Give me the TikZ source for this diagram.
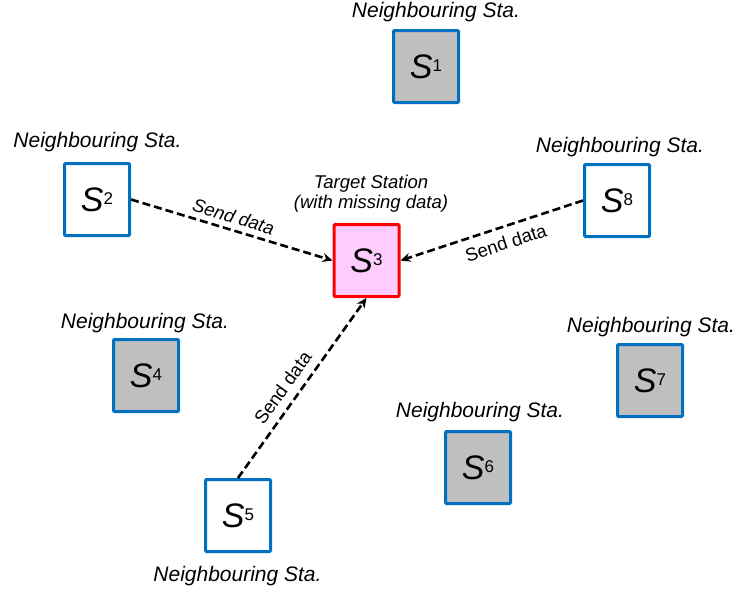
\documentclass[tikz,border=0pt]{standalone}
\usepackage{fontspec}
\setmainfont{Liberation Sans}
\usetikzlibrary{arrows.meta}
\definecolor{stblue}{HTML}{0070C0}
\definecolor{stgray}{HTML}{BFBFBF}
\definecolor{stpink}{HTML}{FFCCFF}
\newcommand{\stat}[1]{{\fontsize{34}{34}\selectfont\textit{S}\raisebox{7pt}{\fontsize{17}{17}\selectfont #1}}}

\begin{document}
\begin{tikzpicture}[x=1pt,y=-1pt,>={Stealth[length=10pt,width=9pt]},
  stbox/.style={draw=stblue,line width=3pt,fill=white,minimum width=65pt,minimum height=72pt,inner sep=0pt,rounded corners=1pt},
  nbr/.style={stbox,fill=stgray},
  tgt/.style={stbox,draw=red,fill=stpink},
  lab/.style={font=\fontsize{21}{23}\selectfont\itshape,anchor=base,inner sep=0pt},
  send/.style={->,line width=2.6pt,dash pattern=on 8pt off 4pt},
  sendlab/.style={font=\fontsize{18.5}{20}\selectfont,sloped,inner sep=2pt}]
  \useasboundingbox (0,0) rectangle (739,597);
  % stations
  \node[nbr] (s1) at (426,66.5) {\stat{1}};
  \node[stbox] (s2) at (97,199.5) {\stat{2}};
  \node[tgt] (s3) at (366.5,260.5) {\stat{3}};
  \node[nbr] (s4) at (146,375.5) {\stat{4}};
  \node[stbox] (s5) at (238,515.5) {\stat{5}};
  \node[nbr] (s6) at (478,467.5) {\stat{6}};
  \node[nbr] (s7) at (650,380.5) {\stat{7}};
  \node[stbox] (s8) at (617,200.5) {\stat{8}};
  % labels
  \node[lab] (l1) at (436,17) {Neighbouring Sta.};
  \node[lab] (l2) at (97.5,147) {Neighbouring Sta.};
  \node[font=\fontsize{18.5}{19.5}\selectfont\itshape,align=center,anchor=north,inner sep=0pt] (l3) at (371,175) {Target Station\\(with missing data)};
  \node[lab] (l4) at (145,328) {Neighbouring Sta.};
  \node[lab] (l5) at (237.5,581) {Neighbouring Sta.};
  \node[lab] (l6) at (480,417) {Neighbouring Sta.};
  \node[lab] (l7) at (651,332) {Neighbouring Sta.};
  \node[lab] (l8) at (620,152) {Neighbouring Sta.};
  % data flow
  \draw[send] (s2.east) -- (s3.west) node[pos=0.49,above=3pt,sendlab,font=\fontsize{18.5}{20}\selectfont\itshape]{Send data};
  \draw[send] (s8.west) -- (s3.east) node[pos=0.45,below=6pt,sendlab]{Send data};
  \draw[send] (s5.north) -- (s3.south) node[pos=0.45,above=6pt,sendlab]{Send data};
\end{tikzpicture}
\end{document}
